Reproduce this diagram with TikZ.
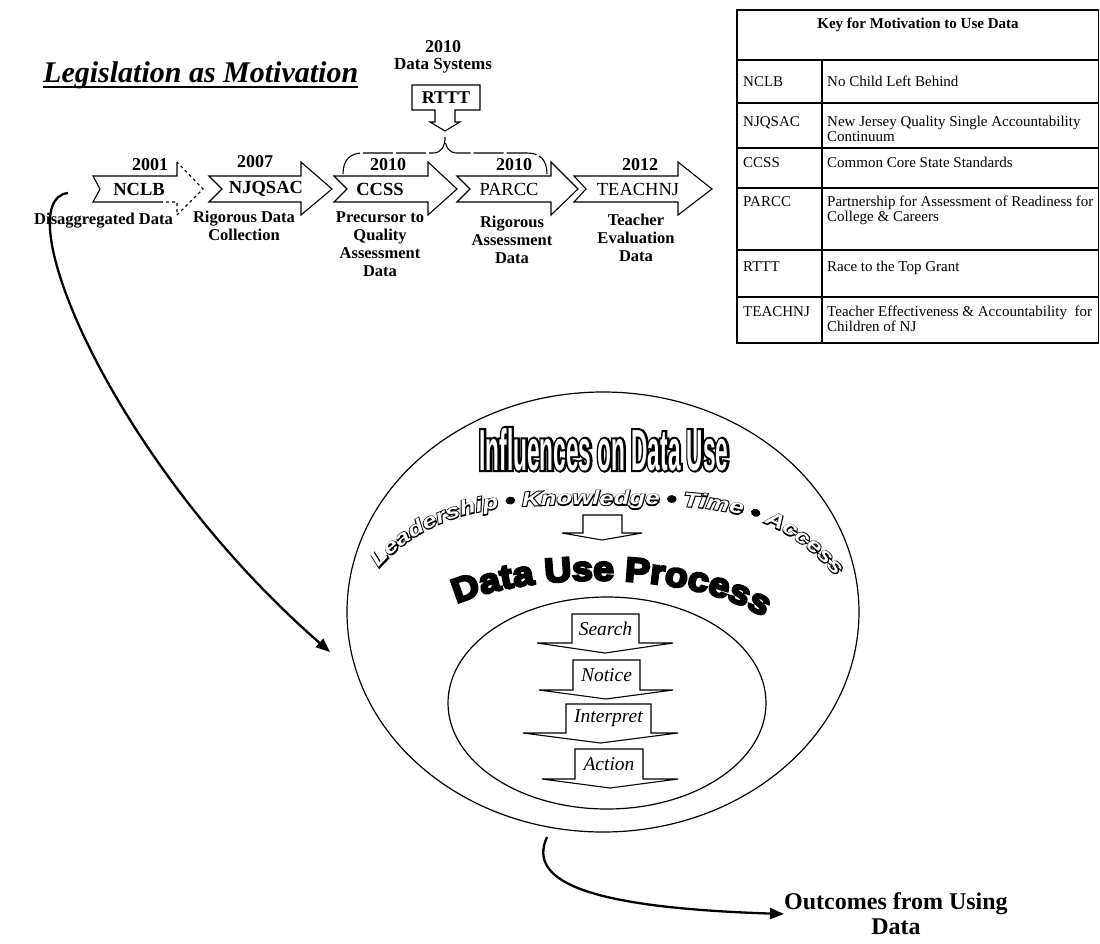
\documentclass[tikz,border=0pt]{standalone}
\usepackage{fontspec}
\setmainfont{Liberation Serif}
\newfontfamily\inflfont[FakeStretch=0.39]{Liberation Sans Bold}
\newfontfamily\inflfontbk[FakeStretch=0.39,FakeBold=7]{Liberation Sans Bold}
\newfontfamily\leadfont[FakeStretch=1.3]{Liberation Sans Bold Italic}
\newfontfamily\leadfontbk[FakeStretch=1.3,FakeBold=10]{Liberation Sans Bold Italic}
\newfontfamily\procfont[FakeStretch=1.1,FakeBold=7]{Liberation Sans Bold}
\newcommand\leadfmt{\leadfont\fontsize{19.8}{20}\selectfont}
\usetikzlibrary{arrows.meta,decorations.text,positioning}
\tikzset{
  blockarrow/.style={draw, fill=white, line width=1.1pt},
  titlelbl/.style={font=\bfseries\itshape\fontsize{30}{30}\selectfont, inner sep=0pt, anchor=base west},
  yearlbl/.style={font=\bfseries\fontsize{18}{18}\selectfont, inner sep=0pt},
  actlbl/.style={font=\fontsize{18.5}{18.5}\selectfont, inner sep=0pt},
  desclbl/.style={font=\bfseries\fontsize{16.5}{18}\selectfont, align=center, inner sep=0pt, anchor=north},
  keytxt/.style={font=\fontsize{15}{14.5}\selectfont, align=left, inner sep=0pt, anchor=north west},
  steplbl/.style={font=\itshape\fontsize{19.5}{19.5}\selectfont, inner sep=0pt},
  bigarrow/.style={line width=2.3pt, -{Triangle[length=14pt,width=11pt]}}
}

\begin{document}
\begin{tikzpicture}[x=1pt, y=1pt]
\useasboundingbox (0,0) rectangle (1100,-943);
\fill[white] (0,0) rectangle (1100,-943);

% title
\node[titlelbl] (legis) at (43,-82) {Legislation as Motivation};
\draw[line width=2pt] ([yshift=-5pt]legis.base west) -- ([yshift=-5pt]legis.base east);

% timeline of laws
\fill[white] (93,-176) -- (177,-176) -- (177,-162) -- (203,-189) -- (177,-215) -- (177,-202) -- (93,-202) -- (100,-189) -- cycle;
\draw[line width=1.1pt] (177,-162) -- (177,-176) -- (93,-176) -- (100,-189) -- (93,-202) -- (160,-202);
\draw[line width=1.1pt, dashed] (160,-202) -- (177,-202) -- (177,-215) -- (203,-189) -- (177,-162);
\foreach \nm/\xl/\xn/\xh/\xt in {njqsac/209/222/301/332, ccss/334/347/428/457, parcc/457/470/551/578, teachnj/574/586/678/712}
  \draw[blockarrow] (\xl,-176) -- (\xh,-176) -- (\xh,-162) -- (\xt,-189) -- (\xh,-215) -- (\xh,-202) -- (\xl,-202) -- (\xn,-189) -- cycle;

\node[actlbl] (nclb) at (139,-189) {\textbf{NCLB}};
\node[actlbl] (njqsac) at (266,-189) {\textbf{NJQSAC}};
\node[actlbl] (ccss) at (380,-189) {\textbf{CCSS}};
\node[actlbl] (parcc) at (509,-189) {PARCC};
\node[actlbl] (teachnj) at (638,-189) {TEACHNJ};

\node[yearlbl] (y2001) at (150,-165) {2001};
\node[yearlbl] (y2007) at (255,-162) {2007};
\node[yearlbl] (y2010a) at (388,-165) {2010};
\node[yearlbl] (y2010b) at (514,-165) {2010};
\node[yearlbl] (y2012) at (640,-165) {2012};

\node[desclbl, anchor=north east] (disagg) at (173,-213) {Disaggregated Data};
\node[desclbl] (rigcoll) at (244,-211) {Rigorous Data\\Collection};
\node[desclbl] (precur) at (380,-211) {Precursor to\\Quality\\Assessment\\Data};
\node[desclbl] (rigass) at (512,-216) {Rigorous\\Assessment\\Data};
\node[desclbl] (teachev) at (636,-214) {Teacher\\Evaluation\\Data};

% brace and RTTT callout
\draw[line width=1.1pt, dash pattern=on 30pt off 3pt] (343,-174) .. controls (343,-160) and (350,-153) .. (363,-153) -- (433,-153)
  .. controls (441,-153) and (445,-147) .. (445,-137) .. controls (445,-147) and (449,-153) .. (457,-153) -- (527,-153)
  .. controls (540,-153) and (547,-160) .. (547,-174);
\draw[blockarrow] (412,-85) -- (480,-85) -- (480,-110) -- (455,-110) -- (455,-122) -- (460,-122) -- (445,-131)
  -- (430,-122) -- (435,-122) -- (435,-110) -- (412,-110) -- cycle;
\node[yearlbl] (rttt) at (446,-98) {RTTT};
\node[yearlbl, font=\bfseries\fontsize{17}{17}\selectfont] (datasys) at (443,-66) {Data Systems};
\node[yearlbl] (y2010c) at (443,-47) {2010};

% key table
\draw[line width=1.4pt] (737,-10) rectangle (1098.5,-343);
\foreach \y in {60,103,148,188,250,297}
  \draw[line width=1.4pt] (737,-\y) -- (1098.5,-\y);
\draw[line width=1.4pt] (822,-60) -- (822,-343);
\node[font=\bfseries\fontsize{15}{15}\selectfont] (keyhead) at (918,-25) {Key for Motivation to Use Data};
\foreach \nm/\yt/\ab/\full in {nclb/82/NCLB/{No Child Left Behind},
    njqsac/122/NJQSAC/{New Jersey Quality Single Accountability\\Continuum},
    ccss/163/CCSS/{Common Core State Standards},
    parcc/202/PARCC/{Partnership for Assessment of Readiness for\\College \& Careers},
    rttt/267/RTTT/{Race to the Top Grant},
    teachnj/312/TEACHNJ/{Teacher Effectiveness \& Accountability\ \ for\\Children of NJ}} {
  \node[keytxt] (key\nm) at (743,{-\yt+6}) {\ab};
  \node[keytxt] (def\nm) at (827,{-\yt+6}) {\full};
}

% influences circle
\draw[line width=1.2pt] (603,-612) ellipse [x radius=256, y radius=220];
\draw[line width=1.2pt] (607,-703) ellipse [x radius=159, y radius=106];
\node[inner sep=0pt, anchor=base] (influences) at (604,-470)
  {\inflfontbk\fontsize{58}{58}\selectfont Influences on Data Use};
\node[inner sep=0pt, anchor=base, text=white] (influencesin) at (604,-470)
  {\inflfont\fontsize{58}{58}\selectfont Influences on Data Use};
\path[decorate, decoration={text along path, text align=center,
    text={|\leadfontbk\fontsize{19.8}{20}\selectfont|Leadership • Knowledge • Time • Access}}]
  (380,-567) .. controls (440,-500) and (520,-505) .. (605,-505) .. controls (690,-505) and (770,-500) .. (835,-575);
\path[decorate, decoration={text along path, text align=center,
    text={|\leadfmt\color{white}|Leadership |\leadfmt\color{black}|•|\leadfmt\color{white}| Knowledge |\leadfmt\color{black}|•|\leadfmt\color{white}| Time |\leadfmt\color{black}|•|\leadfmt\color{white}| Access}}]
  (380,-567) .. controls (440,-500) and (520,-505) .. (605,-505) .. controls (690,-505) and (770,-500) .. (835,-575);
\draw[blockarrow] (583,-515) -- (583,-533) -- (562,-533) -- (602,-540) -- (642,-533) -- (622,-533) -- (622,-515) -- cycle;
\path[decorate, decoration={text along path, text align=center,
    text={|\procfont\fontsize{34}{34}\selectfont|Data Use Process}}]
  (452,-606) .. controls (520,-572) and (690,-567) .. (768,-620);

% data use steps
\foreach \nm/\xl/\xr/\yt/\ys/\wl/\wr/\yp/\txt in {search/572/639/614/643/537/673/653/Search,
    notice/573/640/660/690/539/673/699/Notice,
    interpret/566/651/704/733/523/678/743/Interpret,
    action/575/643/749/779/542/678/788/Action} {
  \draw[blockarrow] (\xl,-\yt) -- (\xl,-\ys) -- (\wl,-\ys) -- ({(\wl+\wr)/2},-\yp) -- (\wr,-\ys) -- (\xr,-\ys) -- (\xr,-\yt) -- cycle;
  \node[steplbl] (\nm) at ({(\xl+\xr)/2},{-(\yt+\ys)/2}) {\txt};
}

% motivation and outcome arrows
\node[desclbl, anchor=west, font=\bfseries\fontsize{24}{25}\selectfont] (outcomes) at (784,-914) {Outcomes from Using\\Data};
\coordinate (nclbtail) at (68,-193);
\coordinate (procin) at (330,-652);
\coordinate (proctail) at (547,-837);
\draw[bigarrow] (nclbtail) .. controls (5,-200) and (110,-460) .. (procin);
\draw[bigarrow] (proctail) .. controls (525,-885) and (600,-908) .. (outcomes.west);
\end{tikzpicture}
\end{document}
